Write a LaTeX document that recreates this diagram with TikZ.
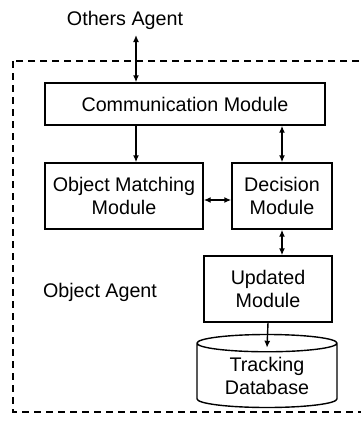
\documentclass[tikz,border=0pt]{standalone}
\usepackage{fontspec}
\setmainfont{Liberation Sans}
\usetikzlibrary{arrows.meta,shapes.geometric}

\tikzset{
  module/.style={draw,line width=1.4pt,align=center,inner sep=2pt},
  link/.style={line width=1.4pt,{Latex[length=7pt,width=6pt]}-{Latex[length=7pt,width=6pt]}},
  feed/.style={line width=1.4pt,-{Latex[length=7pt,width=6pt]}},
}

\begin{document}
\begin{tikzpicture}[x=1pt,y=-1pt,font=\fontsize{19.7}{23}\selectfont,line cap=butt,line join=miter]
  \useasboundingbox (0,0) rectangle (361,423);

  % agent boundary (runs off to the right)
  \begin{scope}
    \clip (0,0) rectangle (361,423);
    \draw[line width=1.4pt,dash pattern=on 7pt off 5pt] (13,61) rectangle (375,412);
  \end{scope}

  \node (others) at (125,20) {Others Agent};
  \node (agent) at (100,292) {Object Agent};

  \node[module,minimum width=280pt,minimum height=42pt] (comm) at (185,104) {Communication Module};
  \node[module,minimum width=158pt,minimum height=66pt] (match) at (124,196) {Object Matching\\Module};
  \node[module,minimum width=100pt,minimum height=66pt] (decide) at (282,196) {Decision\\Module};
  \node[module,minimum width=128pt,minimum height=66pt] (update) at (268,289) {Updated\\Module};
  \node[draw,line width=1.4pt,cylinder,shape border rotate=90,aspect=0.2,anchor=shape center,
        minimum width=140pt,minimum height=73pt,align=center,inner sep=1pt] (db) at (267,371)
        {Tracking\\Database};

  \coordinate (leftline) at (136,0);
  \coordinate (othersend) at (136,35);

  \draw[link] (othersend) -- (comm.north -| leftline);
  \draw[feed] (comm.south -| leftline) -- (match.north -| leftline);
  \draw[link] (comm.south -| decide) -- (decide.north);
  \draw[link] ([yshift=-4pt]match.east) -- ([yshift=-4pt]decide.west);
  \draw[link] (decide.south) -- (update.north -| decide);
  \draw[feed] (update.south) -- ([yshift=-14pt]db.top);
\end{tikzpicture}
\end{document}
